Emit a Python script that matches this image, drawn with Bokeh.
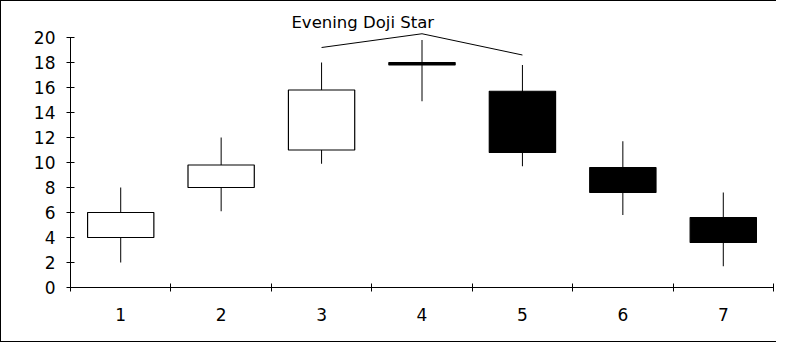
from bokeh.plotting import figure
from bokeh.models import FixedTicker, ColumnDataSource
from bokeh.core.properties import value
from bokeh.embed import file_html
from bokeh.resources import INLINE

# ---- data ----
days = [1, 2, 3, 4, 5, 6, 7]
opens = [4.0, 8.0, 11.0, 18.0, 15.7, 9.6, 5.6]
closes = [6.0, 9.8, 15.8, 17.8, 10.8, 7.6, 3.6]
highs = [8.0, 12.0, 18.0, 19.8, 17.8, 11.7, 7.6]
lows = [2.0, 6.1, 9.9, 14.9, 9.7, 5.8, 1.7]
y_ticks = [0, 2, 4, 6, 8, 10, 12, 14, 16, 18, 20]
x_labels = ["1", "2", "3", "4", "5", "6", "7"]

ann_x = [3, 4, 5]
ann_y = [19.2, 20.3, 18.6]
ann_text = ["Evening Doji Star"]
ann_text_x = [3.41]
ann_text_y = [21.2]

FONT = "DejaVu Sans"

tops = [max(o, c) for o, c in zip(opens, closes)]
bots = [min(o, c) for o, c in zip(opens, closes)]
fills = ["white" if c > o else "black" for o, c in zip(opens, closes)]

src = ColumnDataSource(dict(x=days, top=tops, bottom=bots, high=highs, low=lows, fill=fills))

p = figure(width=776, height=342, output_backend="svg", toolbar_location=None,
           x_range=(0.5, 7.5), y_range=(0, 22.4),
           min_border_left=69, min_border_right=4, min_border_top=6, min_border_bottom=56)
p.styles = {"border-left": "1px solid black", "border-top": "1px solid black",
            "border-bottom": "1px solid black"}
p.outline_line_color = None
p.grid.visible = False
p.background_fill_color = "white"
p.border_fill_color = "white"

p.segment(x0="x", y0="low", x1="x", y1="high", source=src, line_color="black", line_width=1)
p.vbar(x="x", width=0.66, top="top", bottom="bottom", source=src,
       fill_color="fill", line_color="black", line_width=1.2)

p.line(ann_x, ann_y, line_color="black", line_width=1)
p.text(x=ann_text_x, y=ann_text_y, text=ann_text, text_font=value(FONT),
       text_font_size="16.5px", text_align="center", text_baseline="alphabetic", text_color="black")

# axes
xa = p.xaxis[0]
xa.ticker = FixedTicker(ticks=days, minor_ticks=[d - 0.5 for d in days] + [7.5])
xa.major_label_overrides = {d: l for d, l in zip(days, x_labels)}
xa.major_tick_line_color = None
xa.major_tick_in = 0
xa.major_tick_out = 0
xa.minor_tick_in = 4
xa.minor_tick_out = 4
xa.minor_tick_line_color = "black"
xa.major_label_standoff = 16
xa.major_label_text_font = FONT
xa.major_label_text_font_size = "17px"
xa.major_label_text_color = "black"
xa.axis_line_color = "black"

ya = p.yaxis[0]
ya.ticker = FixedTicker(ticks=y_ticks)
ya.bounds = (0, 20)
ya.major_tick_in = 4
ya.major_tick_out = 4
ya.minor_tick_line_color = None
ya.major_label_standoff = 11
ya.major_label_text_font = FONT
ya.major_label_text_font_size = "17px"
ya.major_label_text_color = "black"
ya.axis_line_color = "black"
ya.major_tick_line_color = "black"

open("out.html", "w").write(file_html(p, INLINE))
